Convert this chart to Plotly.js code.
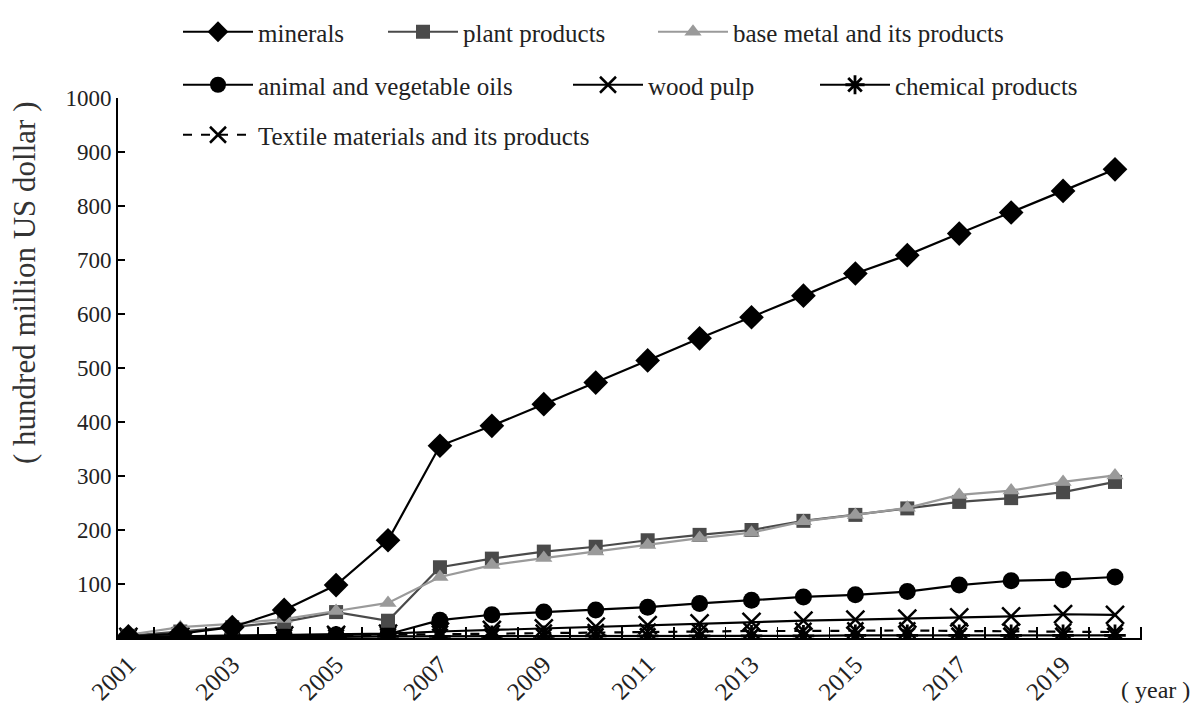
<!DOCTYPE html>
<html>
<head>
<meta charset="utf-8">
<script src="https://cdn.plot.ly/plotly-3.0.1.min.js"></script>
<style>html,body{margin:0;padding:0;background:#fff;}#chart{width:1202px;height:718px;}</style>
</head>
<body>
<div id="chart"></div>
<script>
const years = [2001,2002,2003,2004,2005,2006,2007,2008,2009,2010,2011,2012,2013,2014,2015,2016,2017,2018,2019,2020];
const minerals   = [3,8,20,52,98,181,356,393,433,473,514,555,594,634,675,709,749,788,828,868];
const plantProducts = [4,12,20,30,48,32,131,147,160,169,181,191,200,217,228,240,252,259,270,289];
const baseMetal  = [6,20,26,35,50,65,113,135,148,160,172,185,195,216,228,241,265,273,289,301];
const animalOils = [2,3,4,5,6,7,33,43,48,52,57,64,70,76,80,86,98,106,108,113];
const woodPulp   = [2,3,4,5,6,8,12,15,18,21,24,27,30,32,34,36,38,40,44,43];
const chemical   = [1,1,2,2,2,3,3,3,3,4,4,4,4,4,5,5,5,5,5,5];
const textile    = [1,2,3,4,5,6,8,9,10,11,12,12,13,13,14,14,13,12,12,11];
const yTicks = [100,200,300,400,500,600,700,800,900,1000];
const xTickYears = [2001,2003,2005,2007,2009,2011,2013,2015,2017,2019];
const seriesNames = ["minerals","plant products","base metal and its products","animal and vegetable oils","wood pulp","chemical products","Textile materials and its products"];

const serif = "Liberation Serif, Times New Roman, serif";

function tr(name, y, color, symbol, msize, dash, legendId, mline) {
  return {
    x: years, y: y, name: name, type: 'scatter', mode: 'lines+markers',
    line: {color: color, width: 2.2, dash: dash || 'solid'},
    marker: {symbol: symbol, size: msize, color: color, line: {color: color, width: mline || 0}},
    legend: legendId, showlegend: true
  };
}

const traces = [
  tr(seriesNames[5], chemical, '#000', 'asterisk-open', 18, 'solid', 'legend6', 2.8),
  tr(seriesNames[6], textile, '#000', 'x-thin-open', 16, 'dash', 'legend7', 2.5),
  tr(seriesNames[4], woodPulp, '#000', 'x-thin-open', 18, 'solid', 'legend5', 2.5),
  tr(seriesNames[3], animalOils, '#000', 'circle', 17, 'solid', 'legend4'),
  tr(seriesNames[1], plantProducts, '#4a4a4a', 'square', 14, 'solid', 'legend2'),
  tr(seriesNames[2], baseMetal, '#9a9a9a', 'triangle-up', 15, 'solid', 'legend3'),
  tr(seriesNames[0], minerals, '#000', 'diamond', 19, 'solid', 'legend')
];

function leg(px, py) {
  return {
    xref: 'container', yref: 'container',
    x: px / 1202, y: 1 - py / 718, xanchor: 'left', yanchor: 'middle',
    orientation: 'h', itemwidth: 70, bgcolor: 'rgba(0,0,0,0)', borderwidth: 0,
    font: {family: serif, size: 25, color: '#222'}, itemclick: false
  };
}

const layout = {
  width: 1202, height: 718,
  paper_bgcolor: '#fff', plot_bgcolor: '#fff',
  margin: {l: 118, r: 60, t: 98, b: 80, autoexpand: false},
  showlegend: true,
  legend:  leg(178, 32),
  legend2: leg(383, 32),
  legend3: leg(653, 32),
  legend4: leg(178, 85),
  legend5: leg(568, 85),
  legend6: leg(815, 85),
  legend7: leg(178, 135),
  xaxis: {
    type: 'linear', range: [2000.8, 2020.52],
    showline: true, linecolor: '#000', linewidth: 2,
    showgrid: false, zeroline: false,
    tickmode: 'array', tickvals: xTickYears, ticktext: xTickYears.map(String),
    tickangle: -45, ticks: '',
    tickfont: {family: serif, size: 25, color: '#222'},
    minor: {tickmode: 'array', tickvals: years.map(v => v + 0.5), ticks: 'inside', ticklen: 11, tickwidth: 1.8, tickcolor: '#000', showgrid: false}
  },
  yaxis: {
    range: [0, 1000],
    showline: true, linecolor: '#000', linewidth: 2,
    showgrid: false, zeroline: false,
    tickmode: 'array', tickvals: yTicks, ticktext: yTicks.map(String),
    ticks: 'inside', ticklen: 7, tickwidth: 2, tickcolor: '#000',
    tickfont: {family: serif, size: 23, color: '#222'}
  },
  annotations: [
    {xref: 'paper', yref: 'paper', x: -0.092, y: 0.657, xanchor: 'center', yanchor: 'middle',
     text: '( hundred million US dollar )', textangle: -90, showarrow: false,
     font: {family: serif, size: 31, color: '#333'}},
    {xref: 'paper', yref: 'paper', x: 1.0127, y: -0.096, xanchor: 'center', yanchor: 'middle',
     text: '( year )', showarrow: false,
     font: {family: serif, size: 24, color: '#222'}}
  ]
};

Plotly.newPlot('chart', traces, layout, {displayModeBar: false, staticPlot: true});
</script>
</body>
</html>
